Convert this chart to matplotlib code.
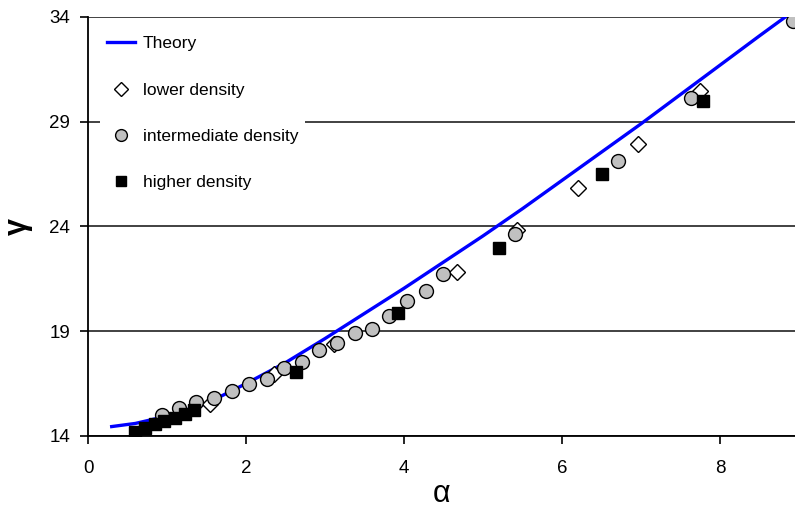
import matplotlib.pyplot as plt

# theory curve
theory_x = [0.3, 0.6, 1.0, 1.5, 2.0, 2.5, 3.0, 3.5, 4.0, 4.5, 5.0, 5.5, 6.0, 6.5, 7.0, 7.5, 8.0, 8.5, 8.9]
theory_y = [14.45, 14.6, 14.95, 15.55, 16.5, 17.5, 18.65, 19.85, 21.05, 22.3, 23.55, 24.85, 26.2, 27.55, 28.9, 30.3, 31.7, 33.1, 34.2]

# lower density
low_x = [1.54, 2.35, 3.11, 4.67, 5.43, 6.20, 6.96, 7.75]
low_y = [15.53, 16.96, 18.40, 21.84, 23.85, 25.85, 27.96, 30.49]

# intermediate density
mid_x = [0.94, 1.15, 1.37, 1.59, 1.82, 2.04, 2.27, 2.48, 2.71, 2.92, 3.15, 3.38, 3.59,
         3.81, 4.04, 4.28, 4.49, 5.41, 6.71, 7.63, 8.92]
mid_y = [15.00, 15.34, 15.63, 15.82, 16.15, 16.49, 16.72, 17.25, 17.54, 18.11, 18.45, 18.92, 19.11,
         19.74, 20.45, 20.93, 21.74, 23.66, 27.15, 30.11, 33.79]

# higher density
high_x = [0.59, 0.72, 0.85, 0.96, 1.10, 1.23, 1.34, 2.63, 3.92, 5.20, 6.51, 7.78]
high_y = [14.19, 14.38, 14.57, 14.72, 14.86, 15.05, 15.24, 17.06, 19.88, 22.99, 26.52, 30.01]

plt.rcParams['font.family'] = ['Liberation Sans', 'DejaVu Sans']

fig = plt.figure(figsize=(7.95, 5.08), dpi=100)
ax = fig.add_axes([88 / 795, 1 - 436 / 508, 1 - 88 / 795, (436 - 17) / 508])

ax.plot(theory_x, theory_y, color='#0000ff', lw=2.4, label='Theory', zorder=2)
ax.plot(low_x, low_y, 'D', ms=8, mfc='white', mec='black', mew=1.0, ls='none',
        label='lower density', zorder=3)
ax.plot(mid_x, mid_y, 'o', ms=10, mfc='#c0c0c0', mec='black', mew=1.0, ls='none',
        label='intermediate density', zorder=4)
ax.plot(high_x, high_y, 's', ms=9, mfc='black', mec='black', ls='none',
        label='higher density', zorder=5)

ax.set_xlim(0, 8.95)
ax.set_ylim(14, 34)
ax.set_xticks([0, 2, 4, 6, 8])
ax.set_yticks([14, 19, 24, 29, 34])
ax.tick_params(labelsize=13.5, length=6, width=1.2, direction='out')
ax.tick_params(axis='x', pad=11)
ax.tick_params(axis='y', pad=7)
ax.grid(axis='y', color='#333333', lw=1.3)
ax.set_axisbelow(True)
for s in ['top', 'right']:
    ax.spines[s].set_visible(False)
for s in ['left', 'bottom']:
    ax.spines[s].set_linewidth(1.3)

ax.set_xlabel('α', fontsize=22, labelpad=2)
ax.set_ylabel('γ', fontsize=22, fontweight='bold', labelpad=12)

leg = ax.legend(loc='upper left', fontsize=12.5, frameon=True, fancybox=False,
                edgecolor='white', framealpha=1, labelspacing=1.8, handlelength=1.6,
                handletextpad=0.45, borderaxespad=0.7, markerscale=0.85)
leg.get_frame().set_linewidth(0)

fig.savefig('out.png', dpi=100)
